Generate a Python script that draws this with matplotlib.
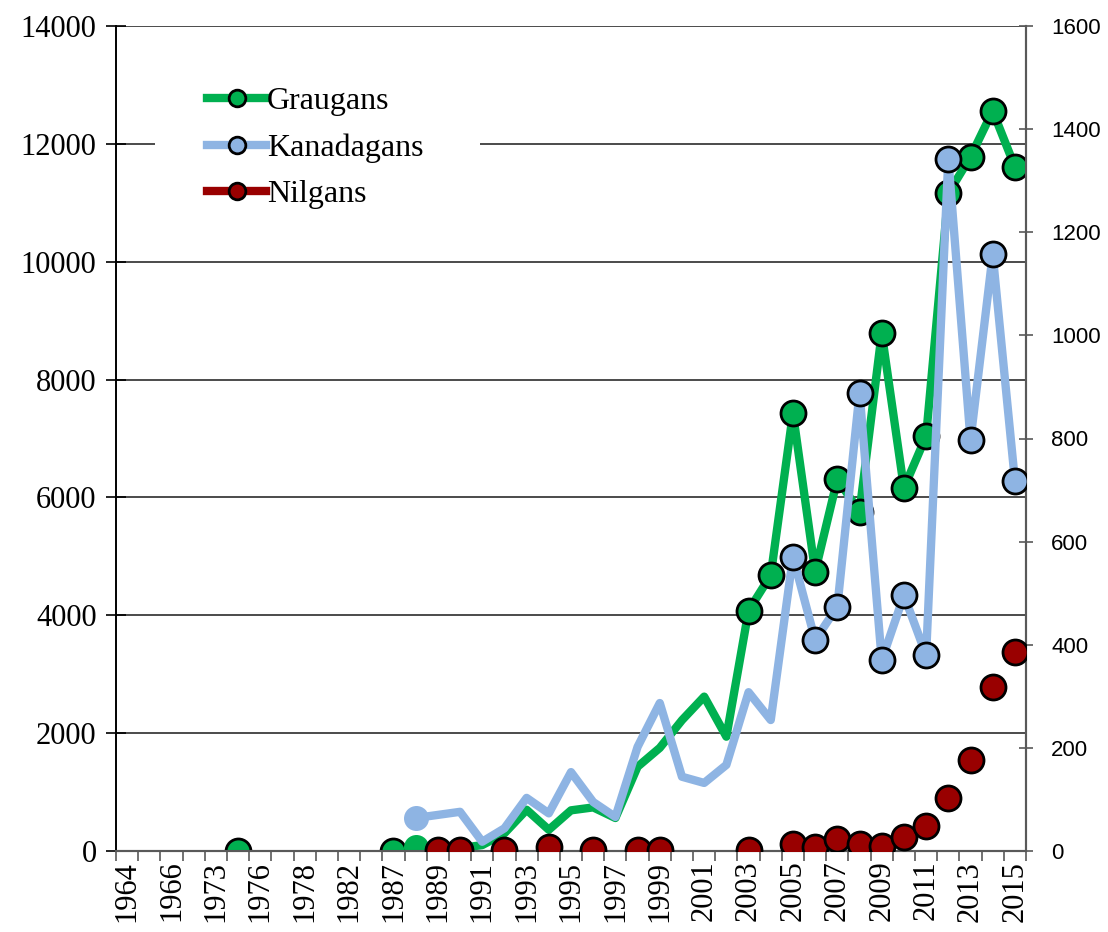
import numpy as np
import matplotlib
matplotlib.use("Agg")
import matplotlib.pyplot as plt
from matplotlib.lines import Line2D
from matplotlib.patches import Rectangle

nan = np.nan

# categories (x axis), only every second one gets a label
years = ['1964', '1965', '1966', '1970', '1973', '1975', '1976', '1977', '1978', '1980', '1982', '1985',
         '1987', '1988', '1989', '1990', '1991', '1992', '1993', '1994', '1995', '1996', '1997', '1998',
         '1999', '2000', '2001', '2002', '2003', '2004', '2005', '2006', '2007', '2008', '2009', '2010',
         '2011', '2012', '2013', '2014', '2015']

# Graugans - left axis
graugans = [nan, nan, nan, nan, nan, 0, nan, nan, nan, nan, nan, nan,
            0, 60, 60, 50, 100, 300, 700, 360, 690, 740, 560, 1430,
            1750, 2220, 2620, 1940, 4080, 4680, 7430, 4740, 6310, 5760, 8790, 6160,
            7040, 11160, 11780, 12560, 11610]

# Kanadagans - right axis
kanadagans = [nan, nan, nan, nan, nan, nan, nan, nan, nan, nan, nan, nan,
              nan, 64, 70, 76, 18, 44, 103, 73, 153, 95, 66, 202,
              287, 144, 132, 167, 308, 254, 571, 409, 474, 889, 370, 496,
              380, 1343, 797, 1157, 718]

# Nilgans - right axis (markers only)
nilgans = [nan, nan, nan, nan, nan, nan, nan, nan, nan, nan, nan, nan,
           nan, nan, 2, 2, nan, 2, nan, 8, nan, 2, nan, 2,
           2, nan, nan, nan, 2, nan, 13, 8, 23, 13, 10, 28,
           48, 103, 176, 319, 385]

# which points carry a marker
grau_mark = [5, 12] + list(range(28, 41))
grau_plain = [13]
kan_mark = list(range(30, 41))
kan_plain = [13]

c_green = '#00B050'
c_blue = '#8EB4E3'
c_red = '#990000'

serif = 'Liberation Serif'
sans = 'Liberation Sans'

x = np.arange(len(years))

fig = plt.figure(figsize=(11.08, 9.32), dpi=100)
ax = fig.add_axes([116 / 1108, 1 - 851 / 932, 910 / 1108, 825 / 932])
ax2 = ax.twinx()

lw = 6
ms = 18

# Graugans
g = np.array(graugans)
ax.plot(x, g, color=c_green, lw=lw, solid_joinstyle='round', zorder=3)
ax.plot(x[grau_mark], g[grau_mark], 'o', ms=ms, mfc=c_green, mec='black', mew=2, zorder=4)
ax.plot(x[grau_plain], g[grau_plain], 'o', ms=ms, mfc=c_green, mec=c_green, mew=0, zorder=4)

# Kanadagans
k = np.array(kanadagans)
ax2.plot(x, k, color=c_blue, lw=lw, solid_joinstyle='round', zorder=3)
ax2.plot(x[kan_mark], k[kan_mark], 'o', ms=ms, mfc=c_blue, mec='black', mew=2, zorder=4)
ax2.plot(x[kan_plain], k[kan_plain], 'o', ms=ms, mfc=c_blue, mec=c_blue, mew=0, zorder=4)

# Nilgans
n = np.array(nilgans)
ax2.plot(x, n, 'o', ms=ms, mfc=c_red, mec='black', mew=2, zorder=5)

# left axis
ax.set_ylim(0, 14000)
ax.set_yticks(np.arange(0, 14001, 2000))
ax.grid(axis='y', color='#1a1a1a', lw=1.1)
ax.set_axisbelow(True)
ax.tick_params(axis='y', direction='inout', length=14, width=1.2, color='black', pad=7,
               labelsize=22, labelfontfamily=serif)

# right axis
ax2.set_ylim(0, 1600)
ax2.set_yticks(np.arange(0, 1601, 200))
ax2.tick_params(axis='y', direction='inout', length=10, width=1.2, color='#595959', pad=13,
                labelsize=16, labelfontfamily=sans)

# x axis: ticks at category boundaries, labels on every second category
ax.set_xlim(-0.5, len(years) - 0.5)
ax.set_xticks(np.arange(-0.5, len(years), 1.0), minor=True)
ax.set_xticks(x[::2], years[::2])
ax.tick_params(axis='x', which='major', length=0, pad=7, labelrotation=90,
               labelsize=22, labelfontfamily=serif)
ax.tick_params(axis='x', which='minor', direction='out', length=7, width=1.2, color='#595959')

for a in (ax, ax2):
    a.spines['top'].set_visible(False)
    a.spines['left'].set_color('black')
    a.spines['left'].set_linewidth(1.2)
    a.spines['right'].set_color('#595959')
    a.spines['right'].set_linewidth(1.5)
    a.spines['bottom'].set_color('#595959')
    a.spines['bottom'].set_linewidth(1.5)

# white legend box covering the gridline
box = Rectangle((155 / 1108, 1 - 230 / 932), 325 / 1108, 155 / 932, transform=fig.transFigure,
                facecolor='white', edgecolor='none', zorder=5)
fig.add_artist(box)

handles = [
    Line2D([], [], color=c_green, lw=lw, marker='o', ms=12, mfc=c_green, mec='black', mew=2),
    Line2D([], [], color=c_blue, lw=lw, marker='o', ms=12, mfc=c_blue, mec='black', mew=2),
    Line2D([], [], color=c_red, lw=lw, marker='o', ms=12, mfc=c_red, mec='black', mew=2),
]
leg = fig.legend(handles, ['Graugans', 'Kanadagans', 'Nilgans'],
                 loc='upper left', bbox_to_anchor=(207 / 1108, 1 - 87 / 932),
                 prop={'family': serif, 'size': 23},
                 handlelength=1.85, handletextpad=0.03, labelspacing=0.53,
                 borderpad=0, borderaxespad=0, frameon=False)
leg.set_zorder(6)

fig.savefig('out.png', dpi=100)
